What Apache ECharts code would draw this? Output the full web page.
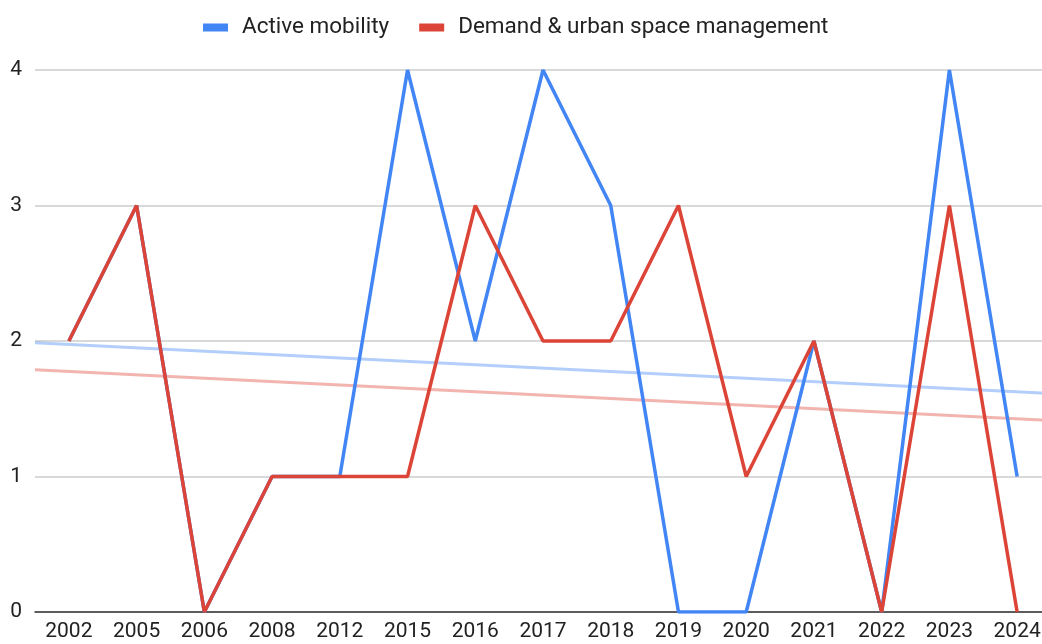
<!DOCTYPE html>
<html><head><meta charset="utf-8">
<script src="https://cdn.jsdelivr.net/npm/echarts@6/dist/echarts.min.js"></script>
<style>html,body{margin:0;padding:0;background:#fff;overflow:hidden}#c{width:1051px;height:644px}</style>
</head><body><div id="c"></div>
<script>
const years = ['2002','2005','2006','2008','2012','2015','2016','2017','2018','2019','2020','2021','2022','2023','2024'];
const activeMobility = [2,3,0,1,1,4,2,4,3,0,0,2,0,4,1];
const demandUrban = [2,3,0,1,1,1,3,2,2,3,1,2,0,3,0];
const yTicks = [0,1,2,3,4];

function trend(vals){
  const n = vals.length;
  let sx=0, sy=0, sxy=0, sxx=0;
  vals.forEach((v,i)=>{sx+=i;sy+=v;sxy+=i*v;sxx+=i*i;});
  const b = (n*sxy - sx*sy)/(n*sxx - sx*sx);
  const a = (sy - b*sx)/n;
  const x0 = -0.5, x1 = n-0.5;
  return [[x0, a+b*x0],[x1, a+b*x1]];
}

const chart = echarts.init(document.getElementById('c'));
const font = 'Roboto, Arial, sans-serif';
chart.setOption({
  animation:false,
  legend:{
    top:11, left:198,
    data:['Active mobility','Demand & urban space management'],
    itemWidth:25, itemHeight:8, itemGap:30,
    icon:'rect',
    textStyle:{fontFamily:font, fontSize:22.5, color:'#222', padding:[0,0,0,9]}
  },
  grid:{left:35, right:0, top:70, bottom:32, containLabel:false},
  xAxis:[{
    type:'category', data:years, boundaryGap:true,
    axisLine:{lineStyle:{color:'#333', width:1.5}},
    axisTick:{show:false},
    axisLabel:{fontFamily:font, fontSize:21, color:'#222', margin:9, interval:0}
  },{
    type:'value', min:-0.5, max:years.length-0.5, show:false
  }],
  yAxis:{
    type:'value', min:0, max:4, interval:1,
    axisLine:{show:false}, axisTick:{show:false},
    splitLine:{lineStyle:{color:'#ccc', width:1.5}},
    axisLabel:{fontFamily:font, fontSize:21, color:'#222', margin:13,
      formatter:v=>yTicks.includes(v)?String(v):''}
  },
  series:[
    {name:'Active mobility', type:'line', data:activeMobility, xAxisIndex:0,
     symbol:'none', lineStyle:{width:3.5, color:'#4285F4'}, itemStyle:{color:'#4285F4'}, z:3},
    {name:'Demand & urban space management', type:'line', data:demandUrban, xAxisIndex:0,
     symbol:'none', lineStyle:{width:3.5, color:'#DB4437'}, itemStyle:{color:'#DB4437'}, z:4},
    {name:'trendA', type:'line', xAxisIndex:1, data:trend(activeMobility),
     symbol:'none', lineStyle:{width:3, color:'#4285F4', opacity:0.4}, z:2, silent:true},
    {name:'trendD', type:'line', xAxisIndex:1, data:trend(demandUrban),
     symbol:'none', lineStyle:{width:3, color:'#DB4437', opacity:0.4}, z:2, silent:true}
  ]
});
</script></body></html>
